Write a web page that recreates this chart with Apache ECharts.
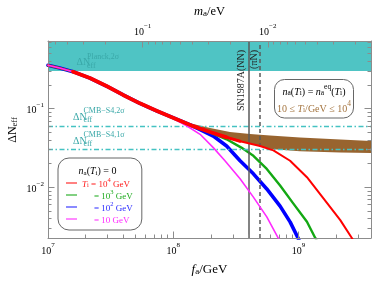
<!DOCTYPE html>
<html><head><meta charset="utf-8">
<script src="https://cdn.jsdelivr.net/npm/echarts@6/dist/echarts.min.js"></script>
<style>html,body{margin:0;padding:0;background:#fff}#c{width:374px;height:281px}</style>
</head><body><div id="c"></div>
<script>
// ---------- data ----------
const fCommon = [1e7, 1.24e7, 1.585e7, 2.16e7, 2.93e7, 3.98e7, 5.42e7, 7.36e7];
const nCommon = [0.356, 0.328, 0.295, 0.2445, 0.1937, 0.1492, 0.1166, 0.0938];

const fRed = [9.95e7, 1.2e8, 1.445e8, 1.967e8, 2.67e8, 3.42e8, 4.94e8, 6.31e8, 8.58e8, 1.17e9, 1.59e9, 2.16e9, 2.68e9, 2.85e9];
const nRed = [0.0766, 0.0676, 0.0598, 0.0503, 0.0431, 0.0384, 0.0335, 0.0294, 0.0217, 0.0134, 0.00714, 0.00381, 0.00224, 0.0019];

const fGreen = [9.95e7, 1.2e8, 1.445e8, 1.967e8, 2.67e8, 3.5e8, 4.37e8, 5.59e8, 7.14e8, 9.12e8, 1.17e9, 1.36e9, 1.45e9];
const nGreen = [0.0766, 0.0676, 0.0598, 0.0498, 0.0407, 0.0319, 0.0251, 0.0171, 0.0105, 0.00618, 0.00363, 0.00228, 0.0019];

const fBlue = [9.95e7, 1.2e8, 1.445e8, 1.64e8, 2.09e8, 2.67e8, 3.42e8, 4.37e8, 5.59e8, 7.14e8, 8.6e8, 9.95e8, 1.04e9];
const nBlue = [0.0766, 0.0676, 0.0596, 0.0540, 0.0448, 0.0335, 0.0217, 0.0148, 0.0095, 0.00575, 0.0036, 0.00224, 0.0019];

const fMag = [9.95e7, 1.28e8, 1.64e8, 2.09e8, 2.59e8, 3.42e8, 4.37e8, 5.59e8, 6.92e8, 7.4e8];
const nMag = [0.0755, 0.0605, 0.0471, 0.0319, 0.0217, 0.0128, 0.00748, 0.00419, 0.00224, 0.0019];

const bandF = [9.95e7, 1.36e8, 1.97e8, 2.84e8, 4.11e8, 5.94e8, 1.03e9, 2.16e9, 3.8e9];
const bandUpper = [0.0766, 0.0653, 0.0565, 0.0503, 0.0475, 0.0454, 0.0428, 0.0405, 0.0387];
const bandLower = [0.0755, 0.0607, 0.0496, 0.0417, 0.0360, 0.0307, 0.0286, 0.0277, 0.0273];

const planck2s = 0.3;
const s4Lines = [0.06, 0.03];
const snNN = 4.0e8, snPiN = 4.95e8;

const xTicksMajor = [1e7, 1e8, 1e9];
const xTicksMinor = [2e7,3e7,4e7,5e7,6e7,7e7,8e7,9e7,2e8,3e8,4e8,5e8,6e8,7e8,8e8,9e8,2e9,3e9];
const yTicksMajor = [0.01, 0.1];
const yTicksMinor = [0.003,0.004,0.005,0.006,0.007,0.008,0.009,0.02,0.03,0.04,0.05,0.06,0.07,0.08,0.09,0.2,0.3,0.4,0.5,0.6,0.7];
const mTicksMajor = [0.1, 0.01];
const mTicksMinor = [0.5,0.4,0.3,0.2,0.09,0.08,0.07,0.06,0.05,0.04,0.03,0.02,0.009,0.008,0.007,0.006,0.005,0.004,0.003,0.002];

const X_MIN = 1e7, X_MAX = 3.8e9, Y_MIN = 0.00226, Y_MAX = 0.724;
const M_CONST = 5.7e6; // m_a[eV] = 5.7e6 / f_a[GeV]

// ---------- style ----------
const SERIF = "'Liberation Serif','DejaVu Serif','Times New Roman',serif";
const AX = '#8c8c8c';
const TEAL = '#4fc4c4', TEAL_TXT = '#3aa8a8', BROWN = '#98642f', BROWN_TXT = '#a4743f';

const mkRich = (fs, ss, lh) => ({
  r:   {fontFamily: SERIF, fontSize: fs, lineHeight: lh, verticalAlign: 'bottom'},
  i:   {fontFamily: SERIF, fontSize: fs, fontStyle: 'italic', lineHeight: lh, verticalAlign: 'bottom'},
  b:   {fontFamily: SERIF, fontSize: fs, lineHeight: lh, verticalAlign: 'bottom'},
  sub: {fontFamily: SERIF, fontSize: ss, lineHeight: ss, verticalAlign: 'bottom'},
  s:   {fontFamily: SERIF, fontSize: ss, lineHeight: ss, verticalAlign: 'top'},
  sup: {fontFamily: SERIF, fontSize: ss, lineHeight: ss, verticalAlign: 'top'},
  pad: {width: 12}
});
const tickRich = mkRich(10, 7, 14);
function powLabel(v) {
  const e = Math.round(Math.log10(v));
  return '{b|10}{s|' + (e < 0 ? '\u2212' + (-e) : e) + '}';
}

function axisPair(pos, min, max, minor, major, withLabels, extra) {
  const inverse = !!(extra && extra.inverse);
  const a = Object.assign({
    type: 'log', position: pos, min: min, max: max, inverse: inverse, z: 5,
    axisLine: {show: true, lineStyle: {color: AX, width: 1}},
    axisTick: {show: true, inside: true, length: 3.5, customValues: minor, lineStyle: {color: AX}},
    axisLabel: withLabels ? {show: true, customValues: major, formatter: powLabel, rich: tickRich, color: '#000', margin: 4} : {show: false},
    splitLine: {show: false}, minorTick: {show: false}
  }, extra || {});
  const b = {
    type: 'log', position: pos, min: min, max: max, inverse: inverse, z: 5,
    axisLine: {show: false},
    axisTick: {show: true, inside: true, length: 6.5, customValues: major, lineStyle: {color: AX}},
    axisLabel: {show: false}, splitLine: {show: false}
  };
  return [a, b];
}

const xAxes = [
  ...axisPair('bottom', X_MIN, X_MAX, xTicksMinor, xTicksMajor, true, {
    name: '{i|f}{sub|a}{r|/GeV}', nameLocation: 'middle', nameGap: 22,
    nameTextStyle: {rich: mkRich(13, 9, 16), color: '#000'}
  }),
  ...axisPair('top', M_CONST / X_MAX, M_CONST / X_MIN, mTicksMinor, mTicksMajor, true, {
    inverse: true,
    name: '{i|m}{sub|a}{r|/eV}', nameLocation: 'middle', nameGap: 23,
    nameTextStyle: {rich: mkRich(12.5, 9, 16), color: '#000'}
  })
];
const yAxes = [
  ...axisPair('left', Y_MIN, Y_MAX, yTicksMinor, yTicksMajor, true, {}),
  ...axisPair('right', Y_MIN, Y_MAX, yTicksMinor, yTicksMajor, false, {})
];

const pairs = (fs, ns) => fs.map((f, i) => [f, ns[i]]);
const lineSeries = (name, fs, ns, color, width, z) => ({
  type: 'line', name: name, data: pairs(fs, ns),
  xAxisIndex: 0, yAxisIndex: 0, symbol: 'none', showSymbol: false, smooth: false,
  lineStyle: {color: color, width: width, join: 'round', cap: 'round'}, itemStyle: {color: color}, z: z, silent: true, clip: true
});
const withCommon = (fs, ns) => [fCommon.concat(fs), nCommon.concat(ns)];

const RC = mkRich(10, 7.5, 14);
const legendText = {
  r: '{i|T}{sub|i}{r| = 10}{sup|4}{r| GeV}',
  g: '{pad|}{r|= 10}{sup|3}{r| GeV}',
  b: '{pad|}{r|= 10}{sup|2}{r| GeV}',
  m: '{pad|}{r|= 10 GeV}'
};

const redAll = withCommon(fRed, nRed);
const option = {
  animation: false,
  backgroundColor: '#fff',
  grid: {left: 48, right: 3, top: 39, bottom: 43},
  xAxis: xAxes,
  yAxis: yAxes,
  legend: {
    orient: 'vertical', left: 58, top: 158, padding: [19, 9, 5, 8],
    itemWidth: 11, itemHeight: 8, itemGap: 0, selectedMode: false,
    backgroundColor: '#fff', borderColor: '#666', borderWidth: 1, borderRadius: 11,
    icon: 'path://M0,0 L10,0 L10,1 L0,1 Z',
    data: [
      {name: 'r', textStyle: {color: '#ff1a1a'}, itemStyle: {color: '#ff1a1a'}},
      {name: 'g', textStyle: {color: '#1daa1d'}, itemStyle: {color: '#1daa1d'}},
      {name: 'b', textStyle: {color: '#2a2aff'}, itemStyle: {color: '#2a2aff'}},
      {name: 'm', textStyle: {color: '#ff2aff'}, itemStyle: {color: '#ff2aff'}}
    ],
    formatter: n => legendText[n],
    textStyle: {fontFamily: SERIF, fontSize: 9, lineHeight: 12, rich: mkRich(9, 6.5, 12)}
  },
  series: [
    {
      type: 'custom', name: 'band', xAxisIndex: 0, yAxisIndex: 0, z: 1, silent: true,
      data: bandF.map((f, i) => [f, bandUpper[i], bandLower[i]]),
      encode: {x: 0, y: [1, 2]},
      renderItem: function (params, api) {
        if (params.dataIndex !== 0) return null;
        const pts = [];
        for (let i = 0; i < bandF.length; i++) pts.push(api.coord([bandF[i], bandUpper[i]]));
        for (let i = bandF.length - 1; i >= 0; i--) pts.push(api.coord([bandF[i], bandLower[i]]));
        return {type: 'polygon', shape: {points: pts, smooth: 0}, style: {fill: BROWN}};
      },
      markArea: {silent: true, itemStyle: {color: TEAL}, data: [[{yAxis: planck2s}, {yAxis: Y_MAX}]]}
    },
    {
      type: 'line', name: 's4', data: [], z: 3, silent: true,
      markLine: {silent: true, symbol: ['none', 'none'], label: {show: false},
        lineStyle: {color: '#45c2c2', width: 1.3, type: [5, 2.5, 1.5, 2.5]},
        data: s4Lines.map(v => ({yAxis: v}))}
    },
    {
      type: 'line', name: 'sn', data: [], z: 3, silent: true,
      markLine: {silent: true, symbol: ['none', 'none'], label: {show: false},
        lineStyle: {color: '#5a5a5a', width: 1.5},
        data: [{xAxis: snNN, lineStyle: {type: 'solid'}}, {xAxis: snPiN, lineStyle: {type: [4, 3]}}]}
    },
    lineSeries('b', ...withCommon(fBlue, nBlue), '#0000ff', 3.6, 4),
    lineSeries('g', ...withCommon(fGreen, nGreen), '#13a813', 2.4, 4),
    lineSeries('r', redAll[0], redAll[1], '#ff0000', 2, 5),
    lineSeries('m', ...withCommon(fMag, nMag), '#ff2aff', 1.6, 5.5),
    lineSeries('rThick', redAll[0].slice(2, fCommon.length + 5), redAll[1].slice(2, fCommon.length + 5), '#ff0000', 3.8, 6),
    lineSeries('rMid', redAll[0].slice(fCommon.length + 4, fCommon.length + 6), redAll[1].slice(fCommon.length + 4, fCommon.length + 6), '#ff0000', 3, 6)
  ],
  graphic: [
    {type: 'text', x: 11, y: 130, rotation: Math.PI / 2, z: 100,
      style: {text: '{r|\u0394N}{sub|eff}', rich: mkRich(12, 8.5, 16), fill: '#000', align: 'center', verticalAlign: 'middle'}},
    // Planck label
    {type: 'text', x: 76.5, y: 62, z: 100, style: {text: '\u0394N', fontFamily: SERIF, fontSize: 10, fill: TEAL_TXT, verticalAlign: 'middle'}},
    {type: 'text', x: 87, y: 57, z: 100, style: {text: 'Planck,2\u03c3', fontFamily: SERIF, fontSize: 8, fill: TEAL_TXT, verticalAlign: 'middle'}},
    {type: 'text', x: 87, y: 65.5, z: 100, style: {text: 'eff', fontFamily: SERIF, fontSize: 8, fill: TEAL_TXT, verticalAlign: 'middle'}},
    // CMB-S4 2 sigma
    {type: 'text', x: 73, y: 117, z: 100, style: {text: '\u0394N', fontFamily: SERIF, fontSize: 10, fill: TEAL_TXT, verticalAlign: 'middle'}},
    {type: 'text', x: 83.5, y: 111, z: 100, style: {text: 'CMB\u2212S4,2\u03c3', fontFamily: SERIF, fontSize: 8, fill: TEAL_TXT, verticalAlign: 'middle'}},
    {type: 'text', x: 83.5, y: 120, z: 100, style: {text: 'eff', fontFamily: SERIF, fontSize: 8, fill: TEAL_TXT, verticalAlign: 'middle'}},
    // CMB-S4 1 sigma
    {type: 'text', x: 73, y: 141, z: 100, style: {text: '\u0394N', fontFamily: SERIF, fontSize: 10, fill: TEAL_TXT, verticalAlign: 'middle'}},
    {type: 'text', x: 83.5, y: 135, z: 100, style: {text: 'CMB\u2212S4,1\u03c3', fontFamily: SERIF, fontSize: 8, fill: TEAL_TXT, verticalAlign: 'middle'}},
    {type: 'text', x: 83.5, y: 144, z: 100, style: {text: 'eff', fontFamily: SERIF, fontSize: 8, fill: TEAL_TXT, verticalAlign: 'middle'}},
    // SN1987A labels
    {type: 'text', x: 241.5, y: 50, rotation: Math.PI / 2, z: 100,
      style: {text: 'SN1987A(NN)', fontFamily: SERIF, fontSize: 10, fill: '#222', align: 'right', verticalAlign: 'middle'}},
    {type: 'text', x: 254.5, y: 50, rotation: Math.PI / 2, z: 100,
      style: {text: '(\u03c0N)', fontFamily: SERIF, fontSize: 10, fill: '#222', align: 'right', verticalAlign: 'middle'}},
    // legend title
    {type: 'text', x: 97.5, y: 169.5, z: 100,
      style: {text: '{i|n}{sub|a}{r|(}{i|T}{sub|i}{r|) = 0}', rich: mkRich(10, 7, 14), fill: '#000', align: 'center', verticalAlign: 'middle'}},
    // right box
    {type: 'rect', z: 99, shape: {x: 274.5, y: 79.5, width: 79, height: 38.5, r: 10},
      style: {fill: '#fff', stroke: '#666', lineWidth: 1}},
    {type: 'text', x: 314, y: 90.5, z: 100,
      style: {text: '{i|n}{sub|a}{r|(}{i|T}{sub|i}{r|) = }{i|n}{sub|a}{sup|eq}{r|(}{i|T}{sub|i}{r|)}', rich: RC, fill: '#000', align: 'center', verticalAlign: 'middle'}},
    {type: 'text', x: 314, y: 107, z: 100,
      style: {text: '{r|10 \u2264 }{i|T}{sub|i}{r|/GeV \u2264 10}{sup|4}', rich: RC, fill: BROWN_TXT, align: 'center', verticalAlign: 'middle'}}
  ]
};

const chart = echarts.init(document.getElementById('c'), null, {renderer: 'canvas'});
chart.setOption(option);
</script>
</body></html>
